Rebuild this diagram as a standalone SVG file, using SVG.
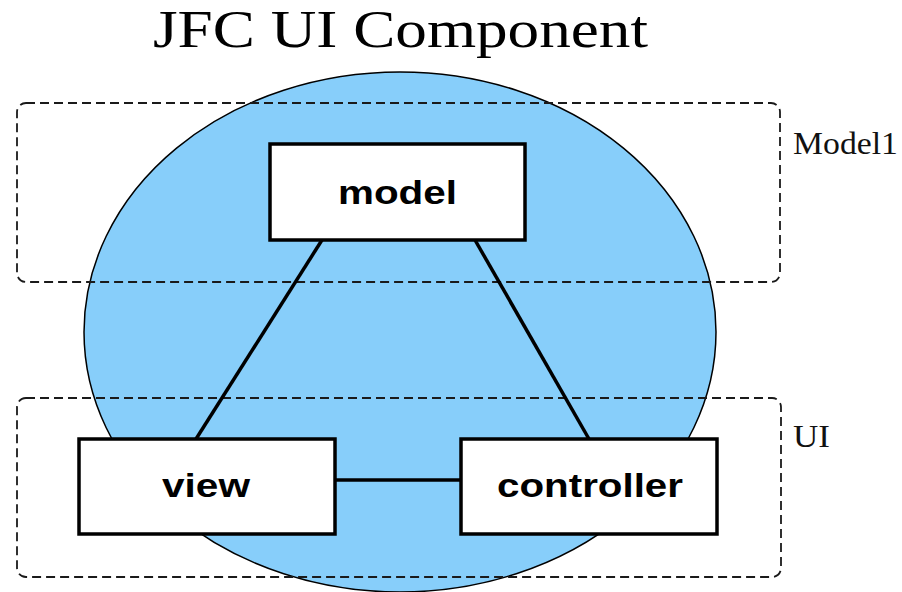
<svg xmlns="http://www.w3.org/2000/svg" width="902" height="592" viewBox="0 0 902 592">
  <style>
    .title { font-family: "Liberation Serif", "Times New Roman", serif; font-size: 53px; fill: #000; }
    .layer { fill: none; stroke: #1a1a1a; stroke-width: 1.8; stroke-dasharray: 9 5; }
    .layer-label { font-family: "Liberation Serif", "Times New Roman", serif; font-size: 31px; fill: #111; }
    .box { fill: #fff; stroke: #000; stroke-width: 3.5; }
    .box-label { font-family: "Liberation Sans", Arial, sans-serif; font-weight: bold; font-size: 33px; fill: #000; }
    .link { stroke: #000; stroke-width: 3.5; fill: none; }
  </style>

  <!-- heading -->
  <text class="title" x="153" y="47" textLength="495" lengthAdjust="spacingAndGlyphs">JFC UI Component</text>

  <!-- component body -->
  <ellipse id="component" cx="400" cy="332" rx="316" ry="260" fill="#87CEFA" stroke="#000" stroke-width="1.5"/>

  <!-- layer outlines -->
  <g id="layer-model">
    <rect class="layer" x="17" y="103" width="763" height="179" rx="9"/>
    <text class="layer-label" x="793" y="154" textLength="105" lengthAdjust="spacingAndGlyphs">Model1</text>
  </g>
  <g id="layer-ui">
    <rect class="layer" x="17" y="398" width="764" height="179" rx="9"/>
    <text class="layer-label" x="793" y="447" textLength="37" lengthAdjust="spacingAndGlyphs">UI</text>
  </g>

  <!-- connectors -->
  <g id="connectors">
    <line class="link" x1="322" y1="240" x2="196" y2="439"/>
    <line class="link" x1="475" y1="240" x2="589" y2="439"/>
    <line class="link" x1="335" y1="480" x2="461" y2="480"/>
  </g>

  <!-- nodes -->
  <g id="model">
    <rect class="box" x="270" y="144" width="255" height="96"/>
    <text class="box-label" x="338" y="204" textLength="119" lengthAdjust="spacingAndGlyphs">model</text>
  </g>
  <g id="view">
    <rect class="box" x="79" y="439" width="256" height="95"/>
    <text class="box-label" x="162" y="497" textLength="88" lengthAdjust="spacingAndGlyphs">view</text>
  </g>
  <g id="controller">
    <rect class="box" x="461" y="439" width="256" height="95"/>
    <text class="box-label" x="497" y="497" textLength="186" lengthAdjust="spacingAndGlyphs">controller</text>
  </g>
</svg>
